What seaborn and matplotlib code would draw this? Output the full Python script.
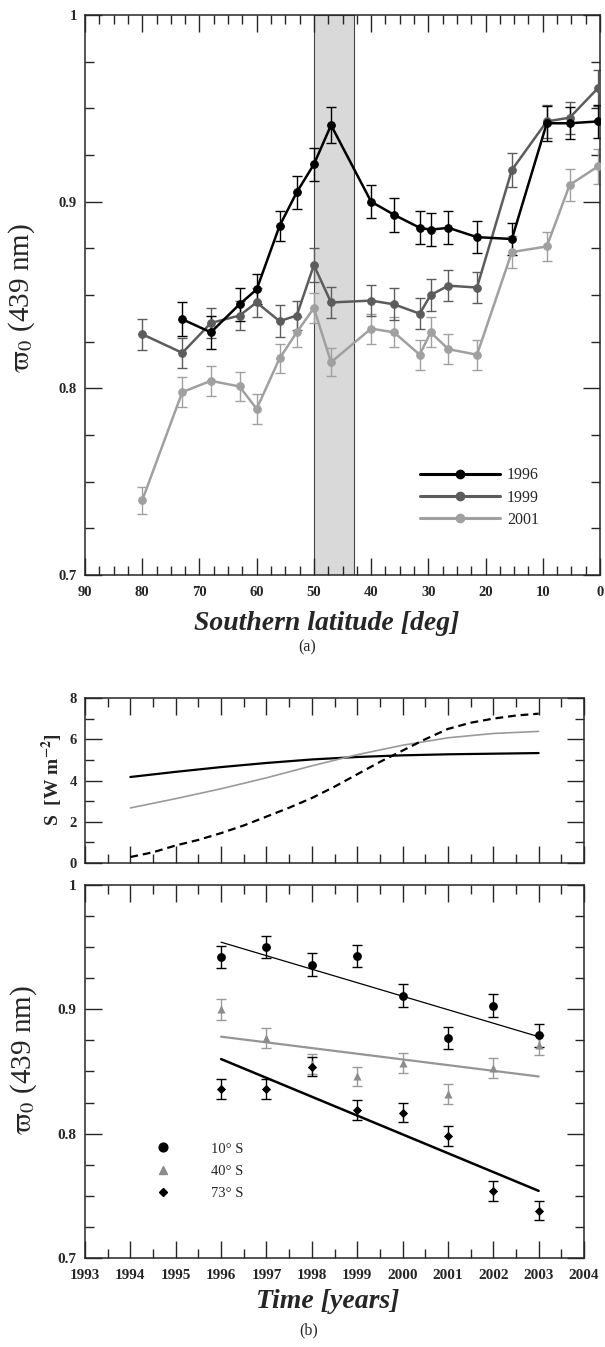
import numpy as np
import pandas as pd
import matplotlib
matplotlib.use("Agg")
import matplotlib.pyplot as plt
from matplotlib.ticker import MultipleLocator, FuncFormatter
from matplotlib.lines import Line2D
import seaborn as sns

# ---------------- panel (a): albedo vs southern latitude ----------------
lat_1996 = [73, 68, 63, 60, 56, 53, 50, 47, 40, 36, 31.5, 29.6, 26.5, 21.5, 15.4, 9.3, 5.3, 0.3]
ssa_1996 = [0.837, 0.830, 0.845, 0.853, 0.887, 0.905, 0.920, 0.941, 0.900, 0.893,
            0.886, 0.885, 0.886, 0.881, 0.880, 0.942, 0.942, 0.943]
err_1996 = [0.009, 0.009, 0.009, 0.008, 0.008, 0.009, 0.009, 0.0095, 0.009, 0.009,
            0.0088, 0.0088, 0.0088, 0.0087, 0.0087, 0.0094, 0.0085, 0.009]

lat_9901 = [80, 73, 68, 63, 60, 56, 53, 50, 47, 40, 36, 31.5, 29.6, 26.5, 21.5, 15.4, 9.3, 5.3, 0.3]
ssa_1999 = [0.829, 0.819, 0.835, 0.839, 0.846, 0.836, 0.839, 0.866, 0.846, 0.847,
            0.845, 0.840, 0.850, 0.855, 0.854, 0.917, 0.943, 0.945, 0.961]
err_1999 = [0.0082, 0.0082, 0.008, 0.008, 0.008, 0.0085, 0.008, 0.009, 0.0085, 0.0085,
            0.0085, 0.0082, 0.0085, 0.0082, 0.0082, 0.009, 0.009, 0.0085, 0.0096]
ssa_2001 = [0.740, 0.798, 0.804, 0.801, 0.789, 0.816, 0.830, 0.843, 0.814, 0.832,
            0.830, 0.818, 0.830, 0.821, 0.818, 0.873, 0.876, 0.909, 0.919]
err_2001 = [0.0073, 0.008, 0.008, 0.008, 0.008, 0.008, 0.008, 0.008, 0.0075, 0.008,
            0.008, 0.008, 0.008, 0.008, 0.008, 0.0085, 0.008, 0.0085, 0.0094]

band_lat = [50, 43]

# ---------------- panel (b) upper: forcing S ----------------
s_years = [1994, 1995, 1996, 1997, 1998, 1999, 2000, 2001, 2002, 2003]
s_black = [4.17, 4.42, 4.65, 4.85, 5.02, 5.14, 5.22, 5.27, 5.30, 5.33]
s_gray = [2.67, 3.12, 3.60, 4.13, 4.71, 5.25, 5.71, 6.07, 6.28, 6.38]
s_dash_years = [1994, 1994.5, 1995, 1995.5, 1996, 1996.5, 1997, 1997.5, 1998, 1998.5,
                1999, 1999.5, 2000, 2000.5, 2001, 2001.5, 2002, 2002.5, 2003]
s_dash = [0.29, 0.52, 0.85, 1.12, 1.45, 1.82, 2.25, 2.68, 3.15, 3.70,
          4.30, 4.90, 5.45, 6.00, 6.50, 6.80, 7.00, 7.15, 7.24]

# ---------------- panel (b) lower: albedo time series ----------------
years = [1996, 1997, 1998, 1999, 2000, 2001, 2002, 2003]
ssa_10S = [0.942, 0.950, 0.936, 0.943, 0.911, 0.877, 0.903, 0.879]
ssa_40S = [0.900, 0.877, 0.856, 0.846, 0.857, 0.832, 0.853, 0.871]
ssa_73S = [0.836, 0.836, 0.854, 0.819, 0.817, 0.798, 0.754, 0.738]
err_10S = [0.009, 0.009, 0.009, 0.009, 0.009, 0.009, 0.009, 0.009]
err_40S = [0.0085, 0.008, 0.008, 0.008, 0.008, 0.008, 0.008, 0.008]
err_73S = [0.008, 0.008, 0.008, 0.008, 0.008, 0.008, 0.008, 0.0076]
trend_years = [1996, 2003]
trend_10S = [0.954, 0.878]
trend_40S = [0.878, 0.846]
trend_73S = [0.860, 0.754]

# ---------------- style ----------------
sns.set_style("ticks")
plt.rcParams["font.family"] = ["Liberation Serif", "DejaVu Serif"]
plt.rcParams["mathtext.fontset"] = "stix"
plt.rcParams["axes.linewidth"] = 1.1

C96, C99, C01 = "#000000", "#5c5c5c", "#a0a0a0"
GRAY_B = "#8c8c8c"
YLABEL = r"$\mathrm{\varpi}_0$ (439 nm)"

fig = plt.figure(figsize=(6.05, 13.47), dpi=100)
W, H = 605.0, 1347.0


def px_axes(left, top, right, bottom):
    return fig.add_axes([left / W, 1 - bottom / H, (right - left) / W, (bottom - top) / H])


def style_ticks(ax, size=10.5, xpad=7.5, ypad=6):
    ax.tick_params(which="both", direction="in", top=True, right=True, width=1.0)
    ax.tick_params(which="major", length=12, labelsize=size)
    ax.tick_params(which="minor", length=6.5)
    ax.tick_params(axis="x", which="major", pad=xpad)
    ax.tick_params(axis="y", which="major", pad=ypad)
    for t in ax.get_xticklabels() + ax.get_yticklabels():
        t.set_fontweight("bold")


fmt_g = FuncFormatter(lambda v, p: f"{v:g}")

# ================= panel (a) =================
ax_a = px_axes(85, 15, 600, 575)
ax_a.axvspan(band_lat[0], band_lat[1], facecolor="#d9d9d9", edgecolor="#444444",
             lw=0.8, zorder=0)

series_a = [
    (lat_9901, ssa_2001, err_2001, C01),
    (lat_9901, ssa_1999, err_1999, C99),
    (lat_1996, ssa_1996, err_1996, C96),
]
for lat, ssa, err, col in series_a:
    ax_a.errorbar(lat, ssa, yerr=err, fmt="none", ecolor=col, elinewidth=1.0,
                  capsize=3.5, capthick=1.0, zorder=2)
    sns.lineplot(x=lat, y=ssa, ax=ax_a, color=col, lw=1.8, marker="o",
                 markersize=5.5, markeredgecolor=col, sort=False,
                 estimator=None, zorder=3)

ax_a.set_xlim(90, 0)
ax_a.set_ylim(0.7, 1.0)
ax_a.xaxis.set_major_locator(MultipleLocator(10))
ax_a.xaxis.set_minor_locator(MultipleLocator(2.5))
ax_a.yaxis.set_major_locator(MultipleLocator(0.1))
ax_a.yaxis.set_minor_locator(MultipleLocator(0.025))
ax_a.yaxis.set_major_formatter(fmt_g)
ax_a.xaxis.set_major_formatter(fmt_g)
ax_a.set_xlabel("")
ax_a.set_ylabel(YLABEL, fontsize=21, va="center")
ax_a.yaxis.set_label_coords(-0.122, 0.495)
style_ticks(ax_a, size=10.5, xpad=8)

leg_a_handles = [Line2D([], [], color=c, lw=2.2, marker="o", markersize=6)
                 for c in (C96, C99, C01)]
ax_a.legend(leg_a_handles, ["1996", "1999", "2001"], loc="upper left",
            bbox_to_anchor=(0.650, 0.192), frameon=False, fontsize=11.5,
            handlelength=5.0, handletextpad=0.45, labelspacing=0.38,
            borderpad=0, borderaxespad=0)

fig.text(327 / W, 1 - 623 / H, "Southern latitude [deg]", fontsize=20,
         fontweight="bold", fontstyle="italic", ha="center", va="center")
fig.text(307 / W, 1 - 647 / H, "(a)", fontsize=11.5, ha="center", va="center")

# ================= panel (b) upper: S =================
ax_s = px_axes(85, 698, 584, 863)
sns.lineplot(x=s_years, y=s_black, ax=ax_s, color="black", lw=1.6, sort=False,
             estimator=None)
sns.lineplot(x=s_years, y=s_gray, ax=ax_s, color="#9a9a9a", lw=1.2, sort=False,
             estimator=None)
sns.lineplot(x=s_dash_years, y=s_dash, ax=ax_s, color="black", lw=1.6,
             linestyle=(0, (3.5, 2.2)), sort=False, estimator=None)
ax_s.set_xlim(1993, 2004)
ax_s.set_ylim(0, 8)
ax_s.xaxis.set_major_locator(MultipleLocator(1))
ax_s.xaxis.set_minor_locator(MultipleLocator(0.5))
ax_s.yaxis.set_major_locator(MultipleLocator(2))
ax_s.yaxis.set_minor_locator(MultipleLocator(1))
ax_s.yaxis.set_major_formatter(fmt_g)
ax_s.set_xticklabels([])
ax_s.set_xlabel("")
ax_s.set_ylabel(r"S  [W m$^{\mathbf{-2}}$]", fontsize=14, fontweight="bold",
                va="center")
ax_s.yaxis.set_label_coords(-0.066, 0.503)
style_ticks(ax_s, size=10.5)

# ================= panel (b) lower: albedo time series =================
ax_b = px_axes(85, 885, 584, 1258)
ax_b.errorbar(years, ssa_10S, yerr=err_10S, fmt="none", ecolor="black",
              elinewidth=1.0, capsize=3.5, capthick=1.0, zorder=2)
ax_b.errorbar(years, ssa_40S, yerr=err_40S, fmt="none", ecolor="#9a9a9a",
              elinewidth=1.0, capsize=3.5, capthick=1.0, zorder=2)
ax_b.errorbar(years, ssa_73S, yerr=err_73S, fmt="none", ecolor="black",
              elinewidth=1.0, capsize=3.5, capthick=1.0, zorder=2)

sns.lineplot(x=trend_years, y=trend_10S, ax=ax_b, color="black", lw=0.9,
             estimator=None)
sns.lineplot(x=trend_years, y=trend_40S, ax=ax_b, color="#959595", lw=1.6,
             estimator=None)
sns.lineplot(x=trend_years, y=trend_73S, ax=ax_b, color="black", lw=1.8,
             estimator=None)

sns.scatterplot(x=years, y=ssa_10S, ax=ax_b, marker="o", s=40, color="black",
                linewidth=0, zorder=4)
sns.scatterplot(x=years, y=ssa_40S, ax=ax_b, marker="^", s=34, color=GRAY_B,
                linewidth=0, zorder=4)
sns.scatterplot(x=years, y=ssa_73S, ax=ax_b, marker="D", s=22, color="black",
                linewidth=0, zorder=4)

ax_b.set_xlim(1993, 2004)
ax_b.set_ylim(0.7, 1.0)
ax_b.xaxis.set_major_locator(MultipleLocator(1))
ax_b.xaxis.set_minor_locator(MultipleLocator(0.5))
ax_b.yaxis.set_major_locator(MultipleLocator(0.1))
ax_b.yaxis.set_minor_locator(MultipleLocator(0.025))
ax_b.yaxis.set_major_formatter(fmt_g)
ax_b.xaxis.set_major_formatter(FuncFormatter(lambda v, p: f"{int(round(v))}"))
ax_b.set_xlabel("")
ax_b.set_ylabel(YLABEL, fontsize=21, va="center")
ax_b.yaxis.set_label_coords(-0.122, 0.53)
style_ticks(ax_b, size=11, xpad=8)

leg_b_handles = [
    Line2D([], [], ls="none", marker="o", markersize=6.3, color="black"),
    Line2D([], [], ls="none", marker="^", markersize=5.5, color=GRAY_B),
    Line2D([], [], ls="none", marker="D", markersize=4.5, color="black"),
]
ax_b.legend(leg_b_handles, ["10° S", "40° S", "73° S"], loc="upper left",
            bbox_to_anchor=(0.142, 0.31), frameon=False, fontsize=10.5,
            handlelength=1.0, handletextpad=2.8, labelspacing=0.62,
            borderpad=0, borderaxespad=0)

fig.text(328 / W, 1 - 1301 / H, "Time [years]", fontsize=20,
         fontweight="bold", fontstyle="italic", ha="center", va="center")
fig.text(309 / W, 1 - 1330 / H, "(b)", fontsize=11.5, ha="center", va="center")

fig.savefig("out.png", dpi=100, facecolor="white")
